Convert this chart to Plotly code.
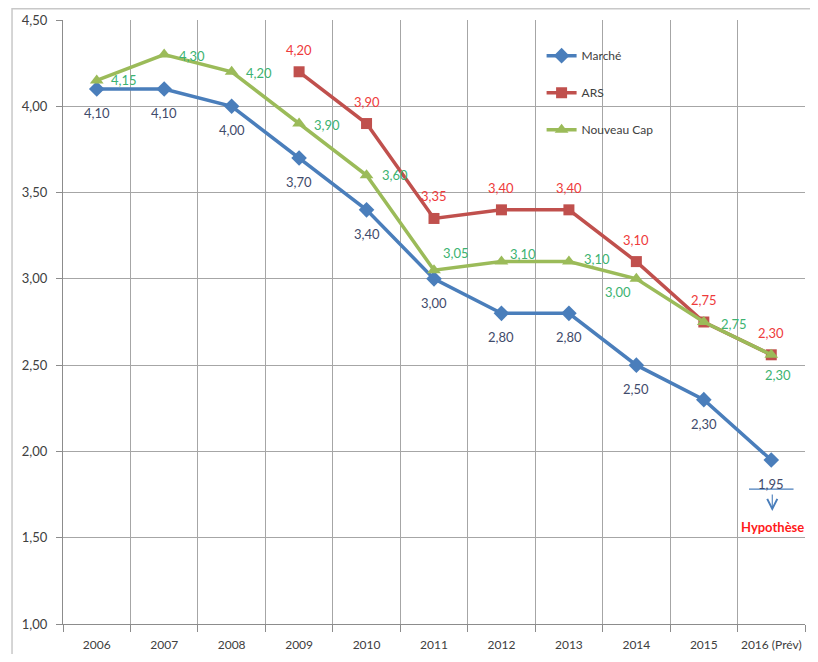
import plotly.graph_objects as go

# ---- data ----
years = ["2006", "2007", "2008", "2009", "2010", "2011", "2012", "2013", "2014", "2015", "2016 (Prév)"]
marche = [4.10, 4.10, 4.00, 3.70, 3.40, 3.00, 2.80, 2.80, 2.50, 2.30, 1.95]
ars = [None, None, None, 4.20, 3.90, 3.35, 3.40, 3.40, 3.10, 2.75, 2.56]
nouveau_cap = [4.15, 4.30, 4.20, 3.90, 3.60, 3.05, 3.10, 3.10, 3.00, 2.75, 2.56]
marche_labels = ["4,10", "4,10", "4,00", "3,70", "3,40", "3,00", "2,80", "2,80", "2,50", "2,30", "1,95"]
ars_labels = [None, None, None, "4,20", "3,90", "3,35", "3,40", "3,40", "3,10", "2,75", "2,30"]
nc_labels = ["4,15", "4,30", "4,20", "3,90", "3,60", "3,05", "3,10", "3,10", "3,00", "2,75", "2,30"]
y_ticks = [1.0, 1.5, 2.0, 2.5, 3.0, 3.5, 4.0, 4.5]
y_ticktext = ["1,00", "1,50", "2,00", "2,50", "3,00", "3,50", "4,00", "4,50"]

# ---- styles ----
FONT = "Lato, 'Open Sans', sans-serif"
C_MARCHE = "#4a7ebb"
C_ARS = "#c0504d"
C_NC = "#9bbb59"
T_MARCHE = "#3f4b6b"
T_ARS = "#ee3b3b"
T_NC = "#3cb371"
GRID = "#a6a6a6"

nc_shift = [(27, 0), (28, -1), (27, -1), (28, -1), (28, 0), (22, 17), (22, 8), (28, 3),
            (-18, -13), (30, -2), (7, -20)]

fig = go.Figure()
fig.add_trace(go.Scatter(x=years, y=marche, name="Marché", mode="lines+markers",
                         line=dict(color=C_MARCHE, width=3.5),
                         marker=dict(symbol="diamond", size=12, color=C_MARCHE),
                         legendgroup="a"))
fig.add_trace(go.Scatter(x=years, y=ars, name="ARS", mode="lines+markers",
                         line=dict(color=C_ARS, width=3.5),
                         marker=dict(symbol="square", size=11, color=C_ARS),
                         legendgroup="b"))
fig.add_trace(go.Scatter(x=years, y=nouveau_cap, name="Nouveau Cap", mode="lines+markers",
                         line=dict(color=C_NC, width=3.5),
                         marker=dict(symbol="triangle-up", size=12, color=C_NC),
                         legendgroup="c"))

ann = []
for i, (yv, t) in enumerate(zip(marche, marche_labels)):
    ann.append(dict(x=i, y=yv, text=t, showarrow=False, yshift=-24,
                    font=dict(family=FONT, size=13, color=T_MARCHE)))
for i, (yv, t) in enumerate(zip(ars, ars_labels)):
    if yv is None:
        continue
    ann.append(dict(x=i, y=yv, text=t, showarrow=False, yshift=22,
                    font=dict(family=FONT, size=13, color=T_ARS)))
for i, ((yv, t), (dx, dy)) in enumerate(zip(zip(nouveau_cap, nc_labels), nc_shift)):
    ann.append(dict(x=i, y=yv, text=t, showarrow=False, xshift=dx, yshift=dy,
                    font=dict(family=FONT, size=13, color=T_NC)))

# hypothesis arrow and text
last = len(years) - 1
ann.append(dict(x=last, y=marche[-1], xshift=1, yshift=-51, ax=0, ay=-18, text="",
                showarrow=True, arrowhead=5, arrowsize=1.8, arrowwidth=1.1,
                arrowcolor=C_MARCHE))
ann.append(dict(x=last, y=marche[-1], xshift=1, yshift=-67, text="<b>Hypothèse</b>",
                showarrow=False, font=dict(family=FONT, size=13, color="#ff1a1a")))

# page body adds an 8px offset; the figure is sized to compensate
fig.update_layout(
    annotations=ann,
    width=802, height=646,
    margin=dict(l=55, r=5, t=12, b=30),
    paper_bgcolor="white", plot_bgcolor="white",
    font=dict(family=FONT, size=12, color="#404040"),
    showlegend=True,
    legend=dict(x=0.645, y=0.965, xanchor="left", yanchor="top",
                bgcolor="rgba(0,0,0,0)", tracegroupgap=18,
                font=dict(family=FONT, size=12, color="#404040")),
    xaxis=dict(type="category", tickson="boundaries", showgrid=True, gridcolor=GRID,
               gridwidth=1, showline=True, linecolor="#8c8c8c", ticks="outside",
               ticklen=7, tickcolor="#8c8c8c", range=[-0.5, 10.5], tickangle=0,
               automargin=False, ticklabelstandoff=10,
               tickfont=dict(family=FONT, size=12, color="#404040")),
    yaxis=dict(range=[1.0, 4.5], tickvals=y_ticks, ticktext=y_ticktext, showgrid=True,
               gridcolor=GRID, gridwidth=1, showline=True, linecolor="#8c8c8c",
               ticks="outside", ticklen=6, tickcolor="#8c8c8c", zeroline=False,
               ticklabelstandoff=6, automargin=False,
               tickfont=dict(family=FONT, size=13, color="#404040")),
    shapes=[
        dict(type="rect", xref="paper", yref="paper", x0=-0.0687, x1=1.03, y0=-0.1,
             y1=1.0186, line=dict(color="#c8c8c8", width=1.5)),
        dict(type="line", xref="x", yref="y", x0=9.67, x1=10.33, y0=1.781, y1=1.781,
             line=dict(color=C_MARCHE, width=1.2)),
    ],
)

fig.write_html("out.html")
